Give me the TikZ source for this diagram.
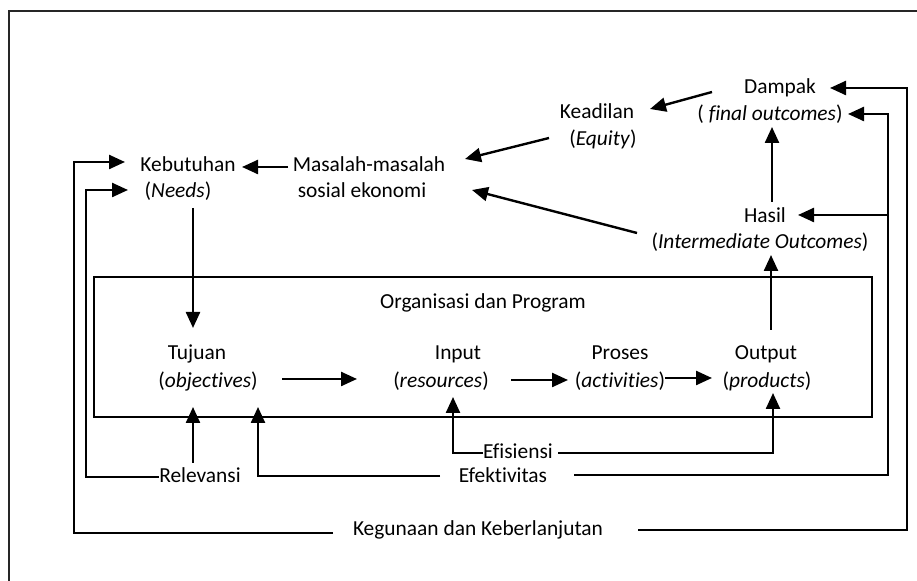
\documentclass[tikz,border=0pt]{standalone}
\usepackage{fontspec}
\setmainfont{Carlito}[Ligatures=NoCommon]
\usetikzlibrary{arrows.meta}
\begin{document}
\begin{tikzpicture}[x=0.5pt,y=-0.5pt,
  lbl/.style={font=\fontsize{10.7}{12}\selectfont, inner sep=0pt, anchor=base},
  arr/.style={line width=1.2pt, -{Triangle[length=8pt,width=7pt]}},
  frameline/.style={line width=1.1pt, draw=black!85}]
\useasboundingbox (0,0) rectangle (917,581);
% outer frame (cropped)
\draw[frameline] (917,11) -- (9,11) -- (9,581);
% program box
\node[draw, line width=0.8pt, minimum width=389pt, minimum height=70pt, inner sep=0pt] (box) at (483,347) {};
% labels
\node[lbl] (dampakA) at (780,94) {Dampak};
\node[lbl] (dampakB) at (770,121) {( \textit{final outcomes})};
\node[lbl] (keadA) at (597,119) {Keadilan};
\node[lbl] (keadB) at (603,146) {(\textit{Equity})};
\node[lbl] (hasilA) at (765,223) {Hasil};
\node[lbl] (hasilB) at (760,249) {(\textit{Intermediate Outcomes})};
\node[lbl] (kebA) at (188,172) {Kebutuhan};
\node[lbl] (kebB) at (178,198) {(\textit{Needs})};
\node[lbl] (masA) at (369,172) {Masalah-masalah};
\node[lbl] (masB) at (362,198) {sosial ekonomi};
\node[lbl] (org) at (483,309) {Organisasi dan Program};
\node[lbl] (tujA) at (197,360) {Tujuan};
\node[lbl] (tujB) at (208,388) {(\textit{objectives})};
\node[lbl] (inA) at (458,360) {Input};
\node[lbl] (inB) at (441,388) {(\textit{resources})};
\node[lbl] (prA) at (620,360) {Proses};
\node[lbl] (prB) at (620,388) {(\textit{activities})};
\node[lbl] (outA) at (766,360) {Output};
\node[lbl] (outB) at (767,388) {(\textit{products})};
\node[lbl] (efis) at (518,459) {Efisiensi};
\node[lbl] (efek) at (503,483) {Efektivitas};
\node[lbl] (rel) at (200,483) {Relevansi};
\node[lbl] (keg) at (478,536) {Kegunaan dan Keberlanjutan};
% main flow
\draw[arr] (288,167) -- (242,167);
\draw[arr] (549,138) -- (465,159);
\draw[arr] (712,92) -- (650,109);
\draw[arr] (637,233) -- (472,190);
\draw[arr] (772,202) -- (772,127);
\draw[arr] (771,330) -- (771,255);
\draw[arr] (193,208) -- (193,328);
\draw[arr] (282,379) -- (357,379);
\draw[arr] (511,380) -- (568,380);
\draw[arr] (665,378) -- (712,378);
% Efisiensi
\coordinate (e1) at (453,453);
\coordinate (e2) at (773,453);
\draw[arr] (efis.west |- e1) -- (e1) -- (453,397);
\draw[arr] (558,453) -- (e2) -- (773,393);
% Relevansi
\coordinate (r1) at (86,477);
\draw[arr] (193,463) -- (193,407);
\draw[arr] (rel.west |- r1) -- (r1) -- (86,190) -- (128,190);
% Efektivitas
\coordinate (f1) at (258,476);
\coordinate (f2) at (888,475);
\coordinate (f3) at (888,114);
\draw[arr] (440,476) -- (f1) -- (258,407);
\draw[arr] (574,475) -- (f2) -- (f3) -- (848,114);
\draw[arr] (888,215) -- (798,215);
% Kegunaan
\coordinate (k1) at (74,533);
\coordinate (k2) at (907,530);
\draw[arr] (333,533) -- (k1) -- (74,162) -- (125,162);
\draw[arr] (638,530) -- (k2) -- (907,88) -- (830,88);
\end{tikzpicture}
\end{document}
